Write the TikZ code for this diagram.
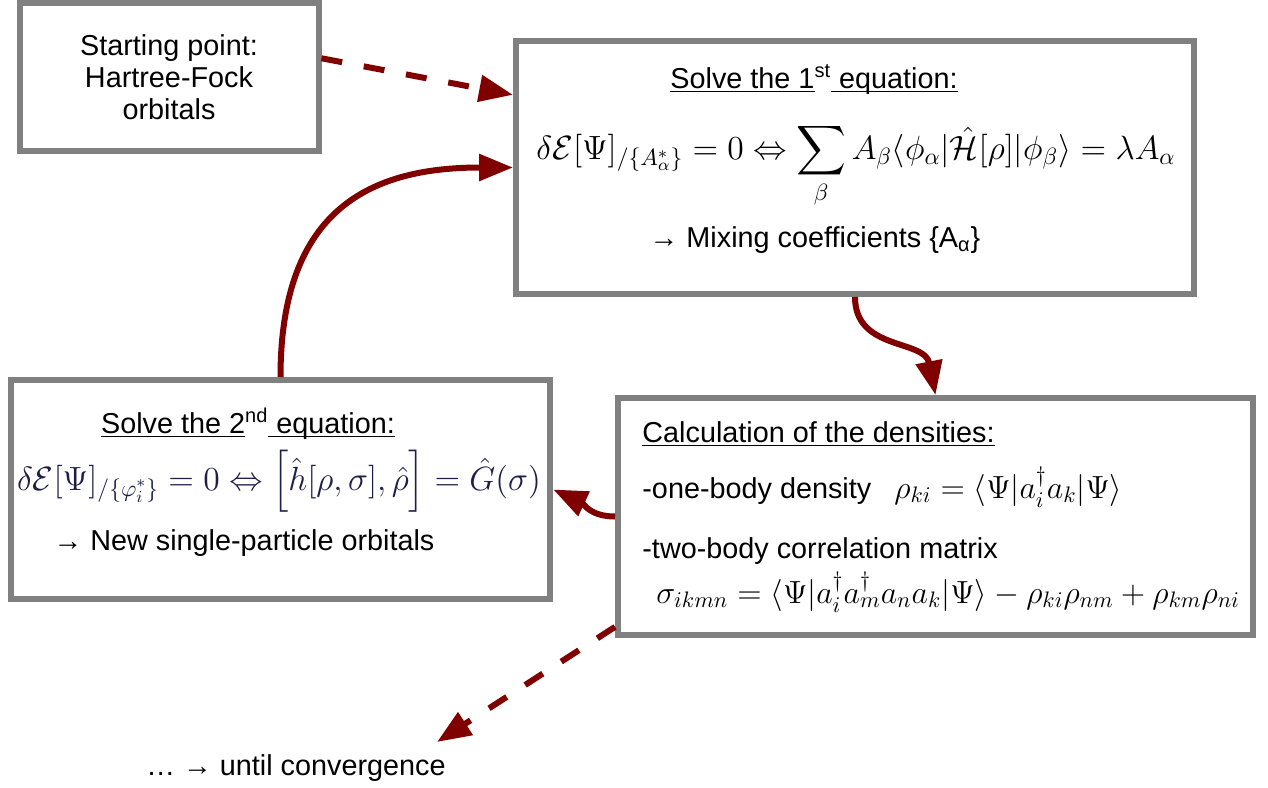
\documentclass[tikz,border=0pt]{standalone}
\usepackage{fix-cm}
\usepackage{amsmath}
\usepackage[no-math]{fontspec}
\setmainfont{Liberation Sans}
\usetikzlibrary{arrows.meta}
\newsavebox\ulinebox
\newcommand\uln[1]{\sbox\ulinebox{#1}\rlap{\rule[-2.2pt]{\wd\ulinebox}{0.7pt}}\usebox\ulinebox}
\definecolor{arrowred}{RGB}{128,0,0}
\definecolor{boxgray}{RGB}{128,128,128}
\definecolor{eqblue}{RGB}{30,30,72}
\tikzset{
  box/.style={draw=boxgray, line width=3pt, rectangle, inner sep=0pt, fill=white},
  txt/.style={inner sep=0pt, font=\fontsize{14.4}{16}\selectfont},
  eq/.style={inner sep=0pt, font=\fontsize{16}{19}\selectfont},
  eqbig/.style={inner sep=0pt, font=\fontsize{16.8}{20}\selectfont},
  flow/.style={draw=arrowred, line width=3pt, -{Triangle[length=17pt,width=13pt]}},
  flowdash/.style={flow, dash pattern=on 10.5pt off 11pt},
}
\begin{document}
\begin{tikzpicture}[x=0.5pt,y=-0.5pt]
\useasboundingbox (0,0) rectangle (1268,787);
% boxes
\node[box, txt, align=center, minimum width=149.5pt, minimum height=74.25pt] (start) at (169,77)
  {Starting point:\\Hartree-Fock\\ orbitals};
\node[box, minimum width=339pt, minimum height=126.5pt] (eq1) at (855,167.5) {};
\node[box, minimum width=269.75pt, minimum height=109.5pt] (eq2) at (280.5,489.5) {};
\node[box, minimum width=317.5pt, minimum height=118.5pt] (dens) at (935.5,516.5) {};
% first equation
\node[txt, anchor=base] (t1) at (814,88) {\uln{Solve the 1}\textsuperscript{st}\uln{ equation:}};
\node[eqbig, anchor=base] (e1) at (856,159)
  {$\displaystyle \delta\mathcal{E}[\Psi]_{/\{A^*_\alpha\}}=0\Leftrightarrow\sum_\beta A_\beta\langle\phi_\alpha|\hat{\mathcal{H}}[\rho]|\phi_\beta\rangle=\lambda A_\alpha$};
\node[txt, anchor=base] (r1) at (815,247) {→ Mixing coefficients \{A\textsubscript{α}\}};
% second equation
\node[txt, anchor=base] (t2) at (248,433) {\uln{Solve the 2}\textsuperscript{nd}\uln{ equation:}};
\node[eqbig, anchor=base, text=eqblue] (e2) at (279,490)
  {$\displaystyle \delta\mathcal{E}[\Psi]_{/\{\varphi^*_i\}}=0\Leftrightarrow\Bigl[\hat{h}[\rho,\sigma],\hat{\rho}\Bigr]=\hat{G}(\sigma)$};
\node[txt, anchor=base] (r2) at (244,550) {→ New single-particle orbitals};
% densities
\node[txt, anchor=base west] (t3) at (642,442) {\uln{Calculation of the densities:}};
\node[txt, anchor=base west] (one) at (642,498) {-one-body density};
\node[eq, anchor=base west] (rho) at (894,498) {$\rho_{ki}=\langle\Psi|a^\dagger_i a_k|\Psi\rangle$};
\node[txt, anchor=base west] (two) at (642,558) {-two-body correlation matrix};
\node[eq, anchor=base west] (sig) at (656,603)
  {$\sigma_{ikmn}=\langle\Psi|a^\dagger_i a^\dagger_m a_n a_k|\Psi\rangle-\rho_{ki}\rho_{nm}+\rho_{km}\rho_{ni}$};
\node[txt, anchor=base] (conv) at (296,775) {… → until convergence};
\coordinate (convtip) at (437,742);
% arrows
\draw[flowdash] (start.7) -- (eq1.168);
\draw[flow] (eq2.north) .. controls +(0,-170) and +(-140,0) .. (eq1.west);
\draw[flow] (eq1.south) .. controls +(0,54) and +(-11,-56) .. (dens.north);
\draw[flow] (dens.west) .. controls +(-25,0) and +(30,14) .. (eq2.east);
\draw[flowdash] (dens.199) -- (convtip);
\end{tikzpicture}
\end{document}
